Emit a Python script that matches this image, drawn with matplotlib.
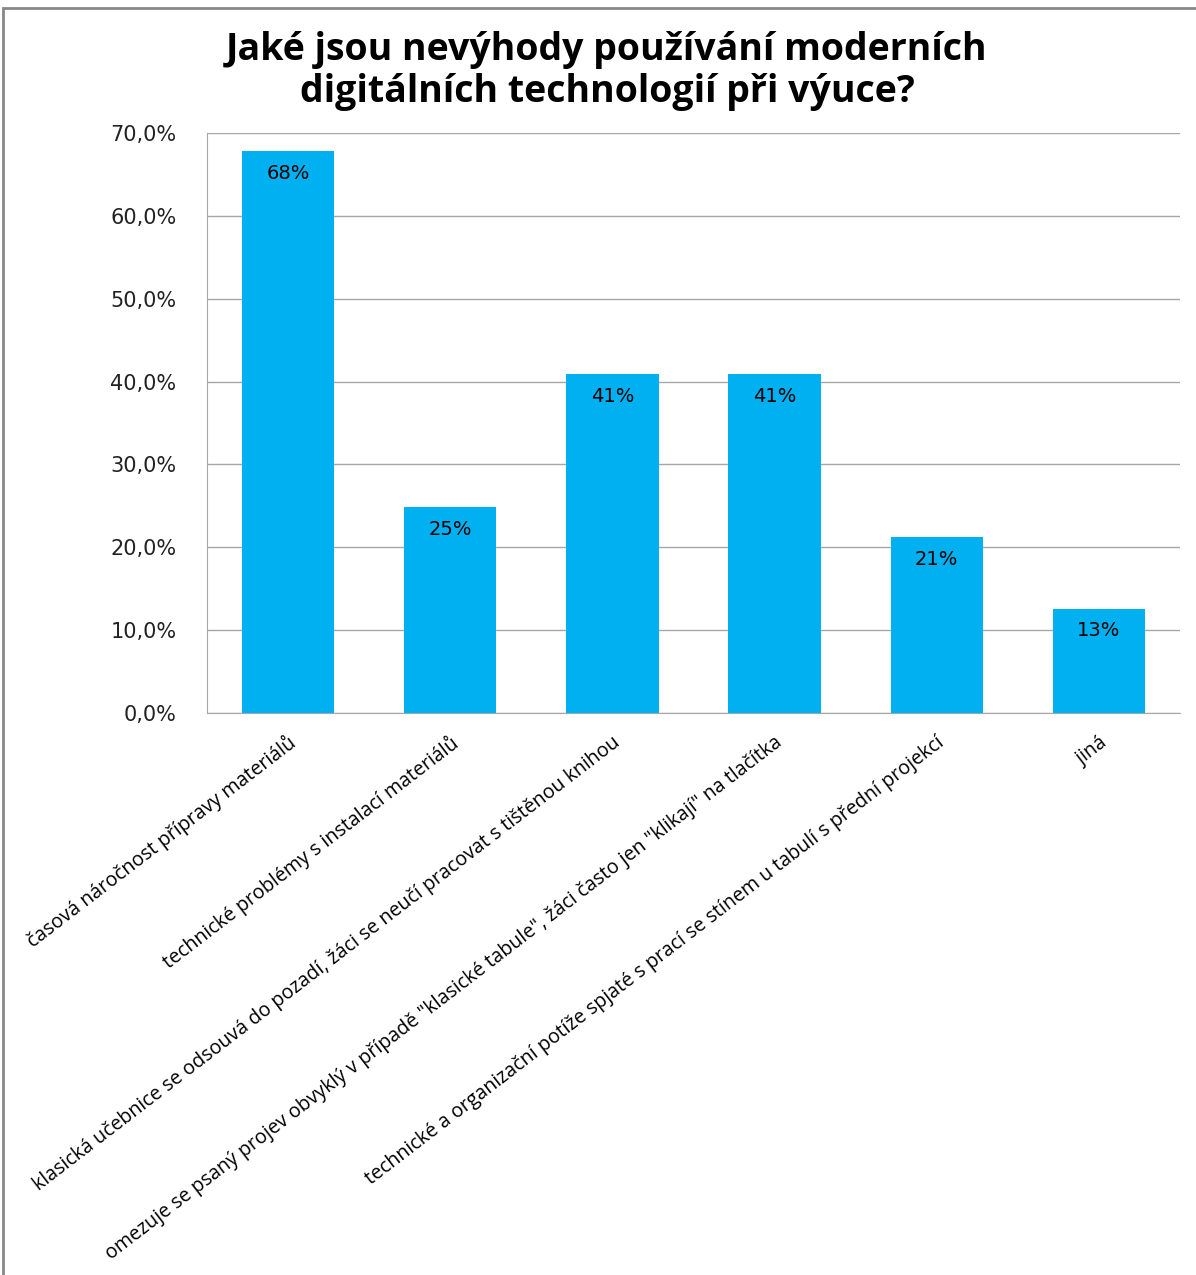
import matplotlib.pyplot as plt
from matplotlib.patches import Rectangle
from matplotlib.ticker import FuncFormatter

categories = [
    "časová náročnost přípravy materiálů",
    "technické problémy s instalací materiálů",
    "klasická učebnice se odsouvá do pozadí, žáci se neučí pracovat s tištěnou knihou",
    "omezuje se psaný projev obvyklý v případě \"klasické tabule\", žáci často jen \"klikají\" na tlačítka",
    "technické a organizační potíže spjaté s prací se stínem u tabulí s přední projekcí",
    "jiná",
]
values = [67.8, 24.8, 40.9, 40.9, 21.2, 12.6]
yticks = [0, 10, 20, 30, 40, 50, 60, 70]

fig = plt.figure(figsize=(11.96, 12.75), dpi=100)
ax = fig.add_axes([0.1731, 0.4408, 0.8135, 0.4549])

x = list(range(len(categories)))
ax.bar(x, values, width=0.57, color="#00B0F0", zorder=3)
for xi, v in zip(x, values):
    ax.text(xi, v - 1.5, "%d%%" % round(v), ha="center", va="top",
            fontsize=14, color="black", zorder=4)

ax.set_xlim(-0.5, 5.5)
ax.set_ylim(0, 70)
ax.set_yticks(yticks)
ax.yaxis.set_major_formatter(FuncFormatter(lambda v, p: ("%.1f%%" % v).replace(".", ",")))
ax.tick_params(axis="y", length=0, labelsize=15, pad=22, labelcolor="#222222")
ax.grid(axis="y", color="#A6A6A6", linewidth=1, zorder=0)
ax.set_xticks(x)
ax.set_xticklabels([])
ax.tick_params(axis="x", length=0)
for s in ["top", "right"]:
    ax.spines[s].set_visible(False)
ax.spines["left"].set_color("#A6A6A6")
ax.spines["bottom"].set_color("#A6A6A6")

for xi, lab in zip(x, categories):
    ax.annotate(lab, xy=(xi, 0), xycoords=("data", "axes fraction"),
                xytext=(4, -20), textcoords="offset points",
                rotation=37.5, rotation_mode="anchor", ha="right", va="center",
                fontsize=14.1, family="Open Sans")

fig.text(0.5075, 0.9445, "Jaké jsou nevýhody používání moderních\ndigitálních technologií při výuce?",
         ha="center", va="center", fontsize=27, fontweight="bold",
         family="Open Sans", linespacing=1.12)

fig.patches.append(Rectangle((3 / 1196, -0.01), 1.1, 1 - 8 / 1275 + 0.01,
                             transform=fig.transFigure, fill=False,
                             edgecolor="#888888", linewidth=2))

plt.savefig("out.png", dpi=100)
